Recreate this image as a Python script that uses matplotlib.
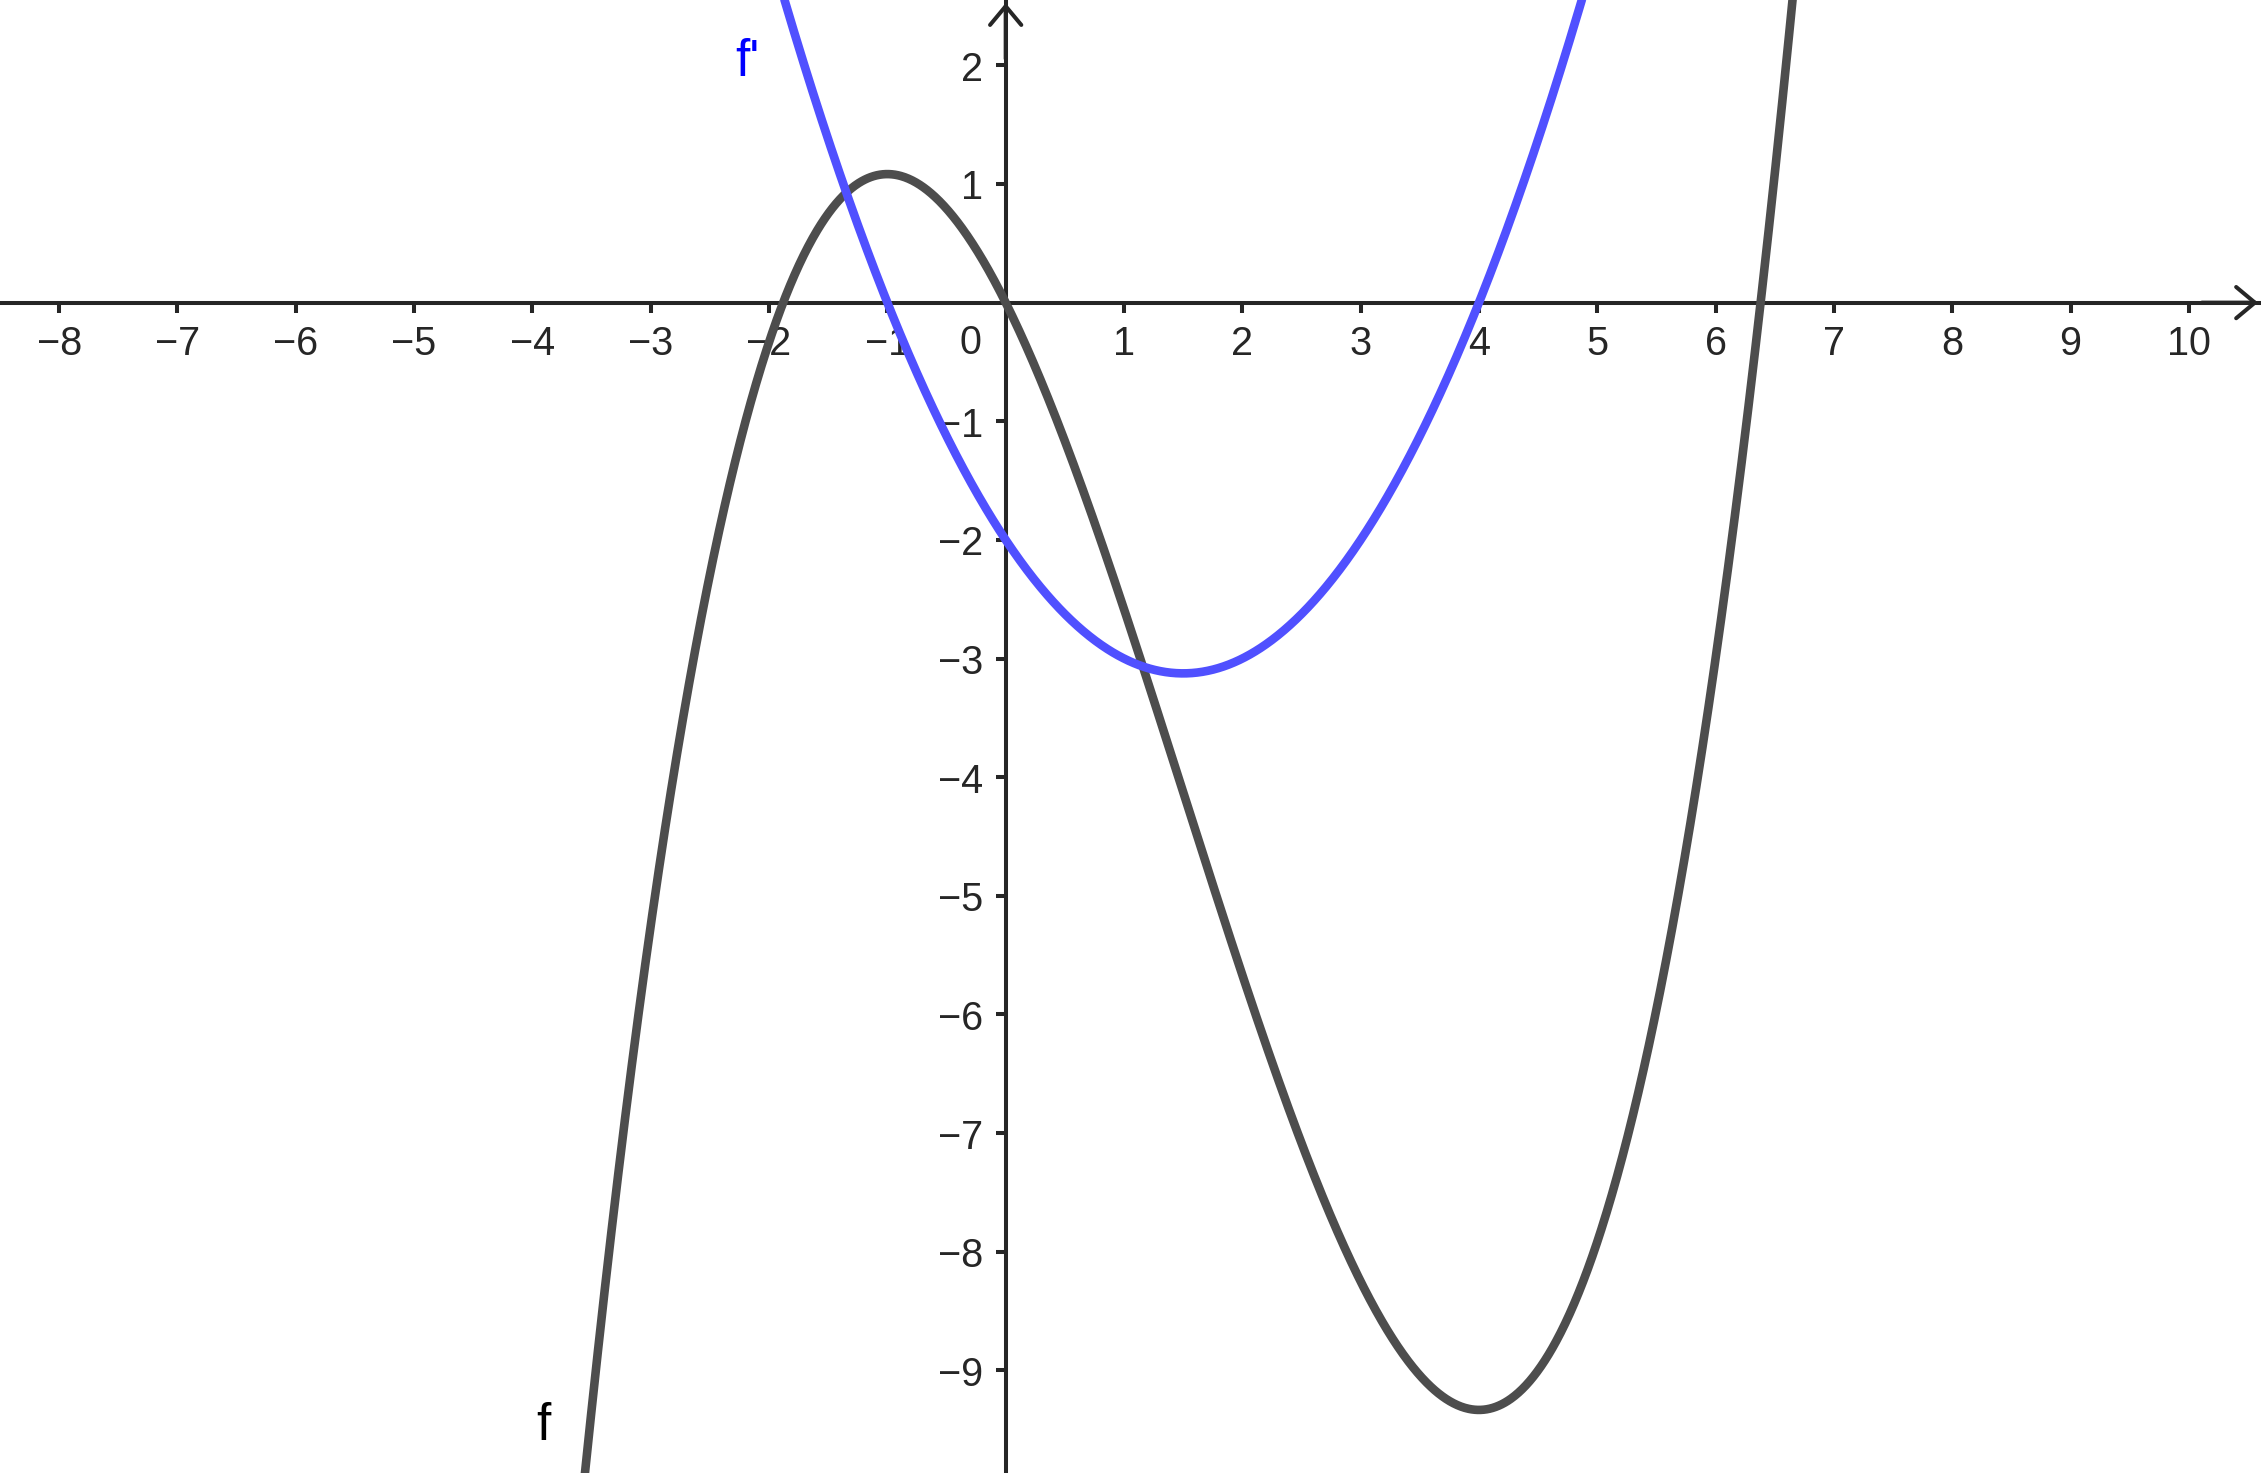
import numpy as np
import matplotlib
matplotlib.use("Agg")
import matplotlib.pyplot as plt

# Polynomial coefficients (highest power first):
# f has a local max at (-1, ~1.08), a local min at (4, ~-9.33), passes through the origin
f_coeffs = [1/6, -0.75, -2.0, 0.0]
# f' crosses zero at -1 and 4, f'(0) = -2, minimum ~ -3.125 at x=1.5
fprime_coeffs = [0.5, -1.5, -2.0]

x_ticks = [-8, -7, -6, -5, -4, -3, -2, -1, 1, 2, 3, 4, 5, 6, 7, 8, 9, 10]
y_ticks = [-9, -8, -7, -6, -5, -4, -3, -2, -1, 1, 2]

x_min, x_max = -8.50, 10.61
y_min, y_max = -9.865, 2.555

plt.rcParams['font.family'] = ['Liberation Sans', 'DejaVu Sans']

fig = plt.figure(figsize=(22.61, 14.735), dpi=100)
ax = fig.add_axes([0, 0, 1, 1])
ax.set_xlim(x_min, x_max)
ax.set_ylim(y_min, y_max)

xs = np.linspace(x_min, x_max, 3000)
ax.plot(xs, np.polyval(f_coeffs, xs), color='#4d4d4d', lw=6.2, solid_capstyle='butt', zorder=3)
ax.plot(xs, np.polyval(fprime_coeffs, xs), color='#5050ff', lw=6.2, solid_capstyle='butt', zorder=4)

axis_color = '#262626'
axis_lw = 2.9
for s in ['top', 'right']:
    ax.spines[s].set_visible(False)
ax.spines['left'].set_position(('data', 0))
ax.spines['bottom'].set_position(('data', 0))
ax.spines['left'].set_color(axis_color)
ax.spines['bottom'].set_color(axis_color)
ax.spines['left'].set_linewidth(axis_lw)
ax.spines['bottom'].set_linewidth(axis_lw)

ax.set_xticks(x_ticks)
ax.set_yticks(y_ticks)
ax.set_xticklabels([f"{t}".replace('-', '\u2212') for t in x_ticks])
ax.set_yticklabels([f"{t}".replace('-', '\u2212') for t in y_ticks])
ax.tick_params(axis='both', direction='out', length=7, width=axis_lw, color=axis_color,
               labelsize=28.5, labelcolor='#262626')
ax.tick_params(axis='x', pad=9)
ax.tick_params(axis='y', pad=9)

ax.text(-0.30, -0.34, '0', fontsize=28.5, color='#262626', ha='center', va='center')

# Arrow heads
arrow_kw = dict(arrowstyle='->,head_length=0.9,head_width=0.75', lw=axis_lw, color=axis_color,
                mutation_scale=15, shrinkA=0, shrinkB=0)
ax.annotate('', xy=(x_max - 0.025, 0), xytext=(x_max - 0.5, 0), arrowprops=arrow_kw, zorder=5)
ax.annotate('', xy=(0, y_max - 0.03), xytext=(0, y_max - 0.5), arrowprops=arrow_kw, zorder=5)

ax.text(-2.18, 2.03, "f'", fontsize=37, color='#0000ff', ha='center', va='center')
ax.text(-3.91, -9.47, "f", fontsize=37, color='#000000', ha='center', va='center')

fig.savefig('out.png', dpi=100)
